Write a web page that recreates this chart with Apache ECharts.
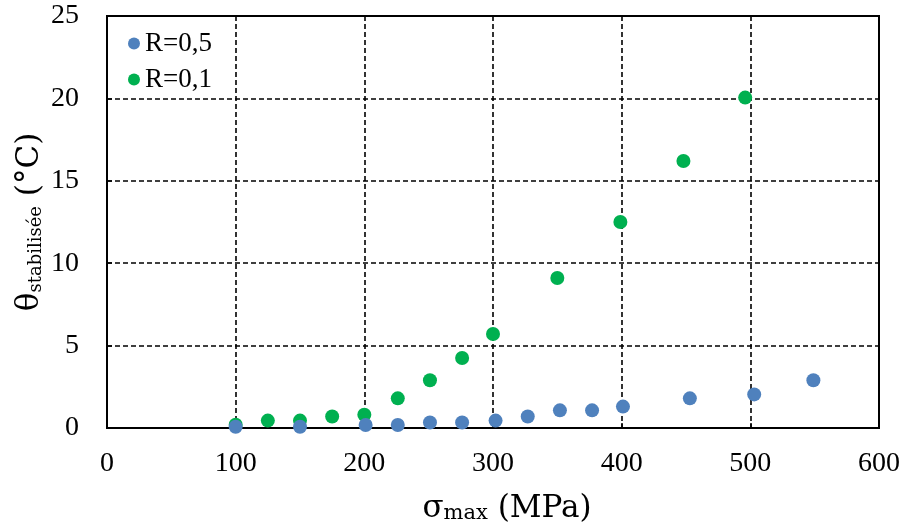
<!DOCTYPE html>
<html><head><meta charset="utf-8">
<script src="https://cdn.jsdelivr.net/npm/echarts@6/dist/echarts.min.js"></script>
<style>html,body{margin:0;padding:0;background:#fff}#c{width:906px;height:524px}</style>
</head><body><div id="c"></div>
<script>
const seriesNames = ['R=0,5', 'R=0,1'];
const sigmaR05 = [100, 150, 201, 226, 251, 276, 302, 327, 352, 377, 401, 453, 503, 549];
const thetaR05 = [0.08, 0.08, 0.18, 0.18, 0.33, 0.33, 0.45, 0.7, 1.07, 1.07, 1.3, 1.8, 2.04, 2.9];
const sigmaR01 = [100, 125, 150, 175, 200, 226, 251, 276, 300, 350, 399, 448, 496];
const thetaR01 = [0.2, 0.45, 0.45, 0.7, 0.8, 1.8, 2.9, 4.25, 5.7, 9.1, 12.5, 16.2, 20.05];
const xTicks = [0, 100, 200, 300, 400, 500, 600];
const yTicks = [0, 5, 10, 15, 20, 25];

const FONT = '"Liberation Serif", serif';
const TFONT = '"DejaVu Serif", serif';
const pair = (xs, ys) => xs.map((x, i) => [x, ys[i]]);
const chart = echarts.init(document.getElementById('c'));
const gridLine = { show: true, lineStyle: { color: '#000', width: 1.6, type: [5, 3] } };
chart.setOption({
  animation: false,
  textStyle: { fontFamily: FONT },
  grid: { left: 107, right: 27, top: 16, bottom: 96, show: true, borderColor: '#000', borderWidth: 2, backgroundColor: 'transparent', outerBoundsMode: 'none', containLabel: false },
  legend: {
    left: 123, top: 25, orient: 'vertical', itemGap: 9, itemWidth: 12, itemHeight: 12,
    textStyle: { fontFamily: FONT, fontSize: 27, color: '#000' },
    data: seriesNames.map(n => ({ name: n, icon: 'circle' }))
  },
  xAxis: {
    type: 'value', min: xTicks[0], max: xTicks[xTicks.length - 1], interval: 100,
    axisLine: { show: true, lineStyle: { color: '#000', width: 2 } },
    axisTick: { show: true, inside: true, length: 5, lineStyle: { color: '#000', width: 1.5 } },
    axisLabel: { fontFamily: FONT, fontSize: 28, color: '#000', margin: 22 },
    splitLine: gridLine,
    name: '{a|σ}{b|max}{a| (MPa)}', nameLocation: 'middle', nameGap: 60,
    nameTextStyle: { padding: [0, 0, 0, 28], rich: {
      a: { fontFamily: TFONT, fontSize: 31, color: '#000', verticalAlign: 'bottom', lineHeight: 36 },
      b: { fontFamily: TFONT, fontSize: 21, color: '#000', verticalAlign: 'bottom', lineHeight: 30 }
    } }
  },
  yAxis: {
    type: 'value', min: yTicks[0], max: yTicks[yTicks.length - 1], interval: 5,
    axisLine: { show: true, lineStyle: { color: '#000', width: 2 } },
    axisTick: { show: true, inside: true, length: 5, lineStyle: { color: '#000', width: 1.5 } },
    axisLabel: { fontFamily: FONT, fontSize: 28, color: '#000', margin: 28 },
    splitLine: gridLine,
    name: '{a|θ}{b|stabilisée}{a| (°C)}', nameLocation: 'middle', nameGap: 62, nameMoveOverlap: false,
    nameTextStyle: { rich: {
      a: { fontFamily: TFONT, fontSize: 31, color: '#000', verticalAlign: 'bottom', lineHeight: 36 },
      b: { fontFamily: TFONT, fontSize: 18, color: '#000', verticalAlign: 'bottom', lineHeight: 26 }
    } }
  },
  series: [
    { name: seriesNames[0], type: 'scatter', symbolSize: 14, itemStyle: { color: '#4f81bd', opacity: 1 }, data: pair(sigmaR05, thetaR05), z: 3 },
    { name: seriesNames[1], type: 'scatter', symbolSize: 14, itemStyle: { color: '#00b050', opacity: 1 }, data: pair(sigmaR01, thetaR01), z: 2 }
  ]
});
</script></body></html>
